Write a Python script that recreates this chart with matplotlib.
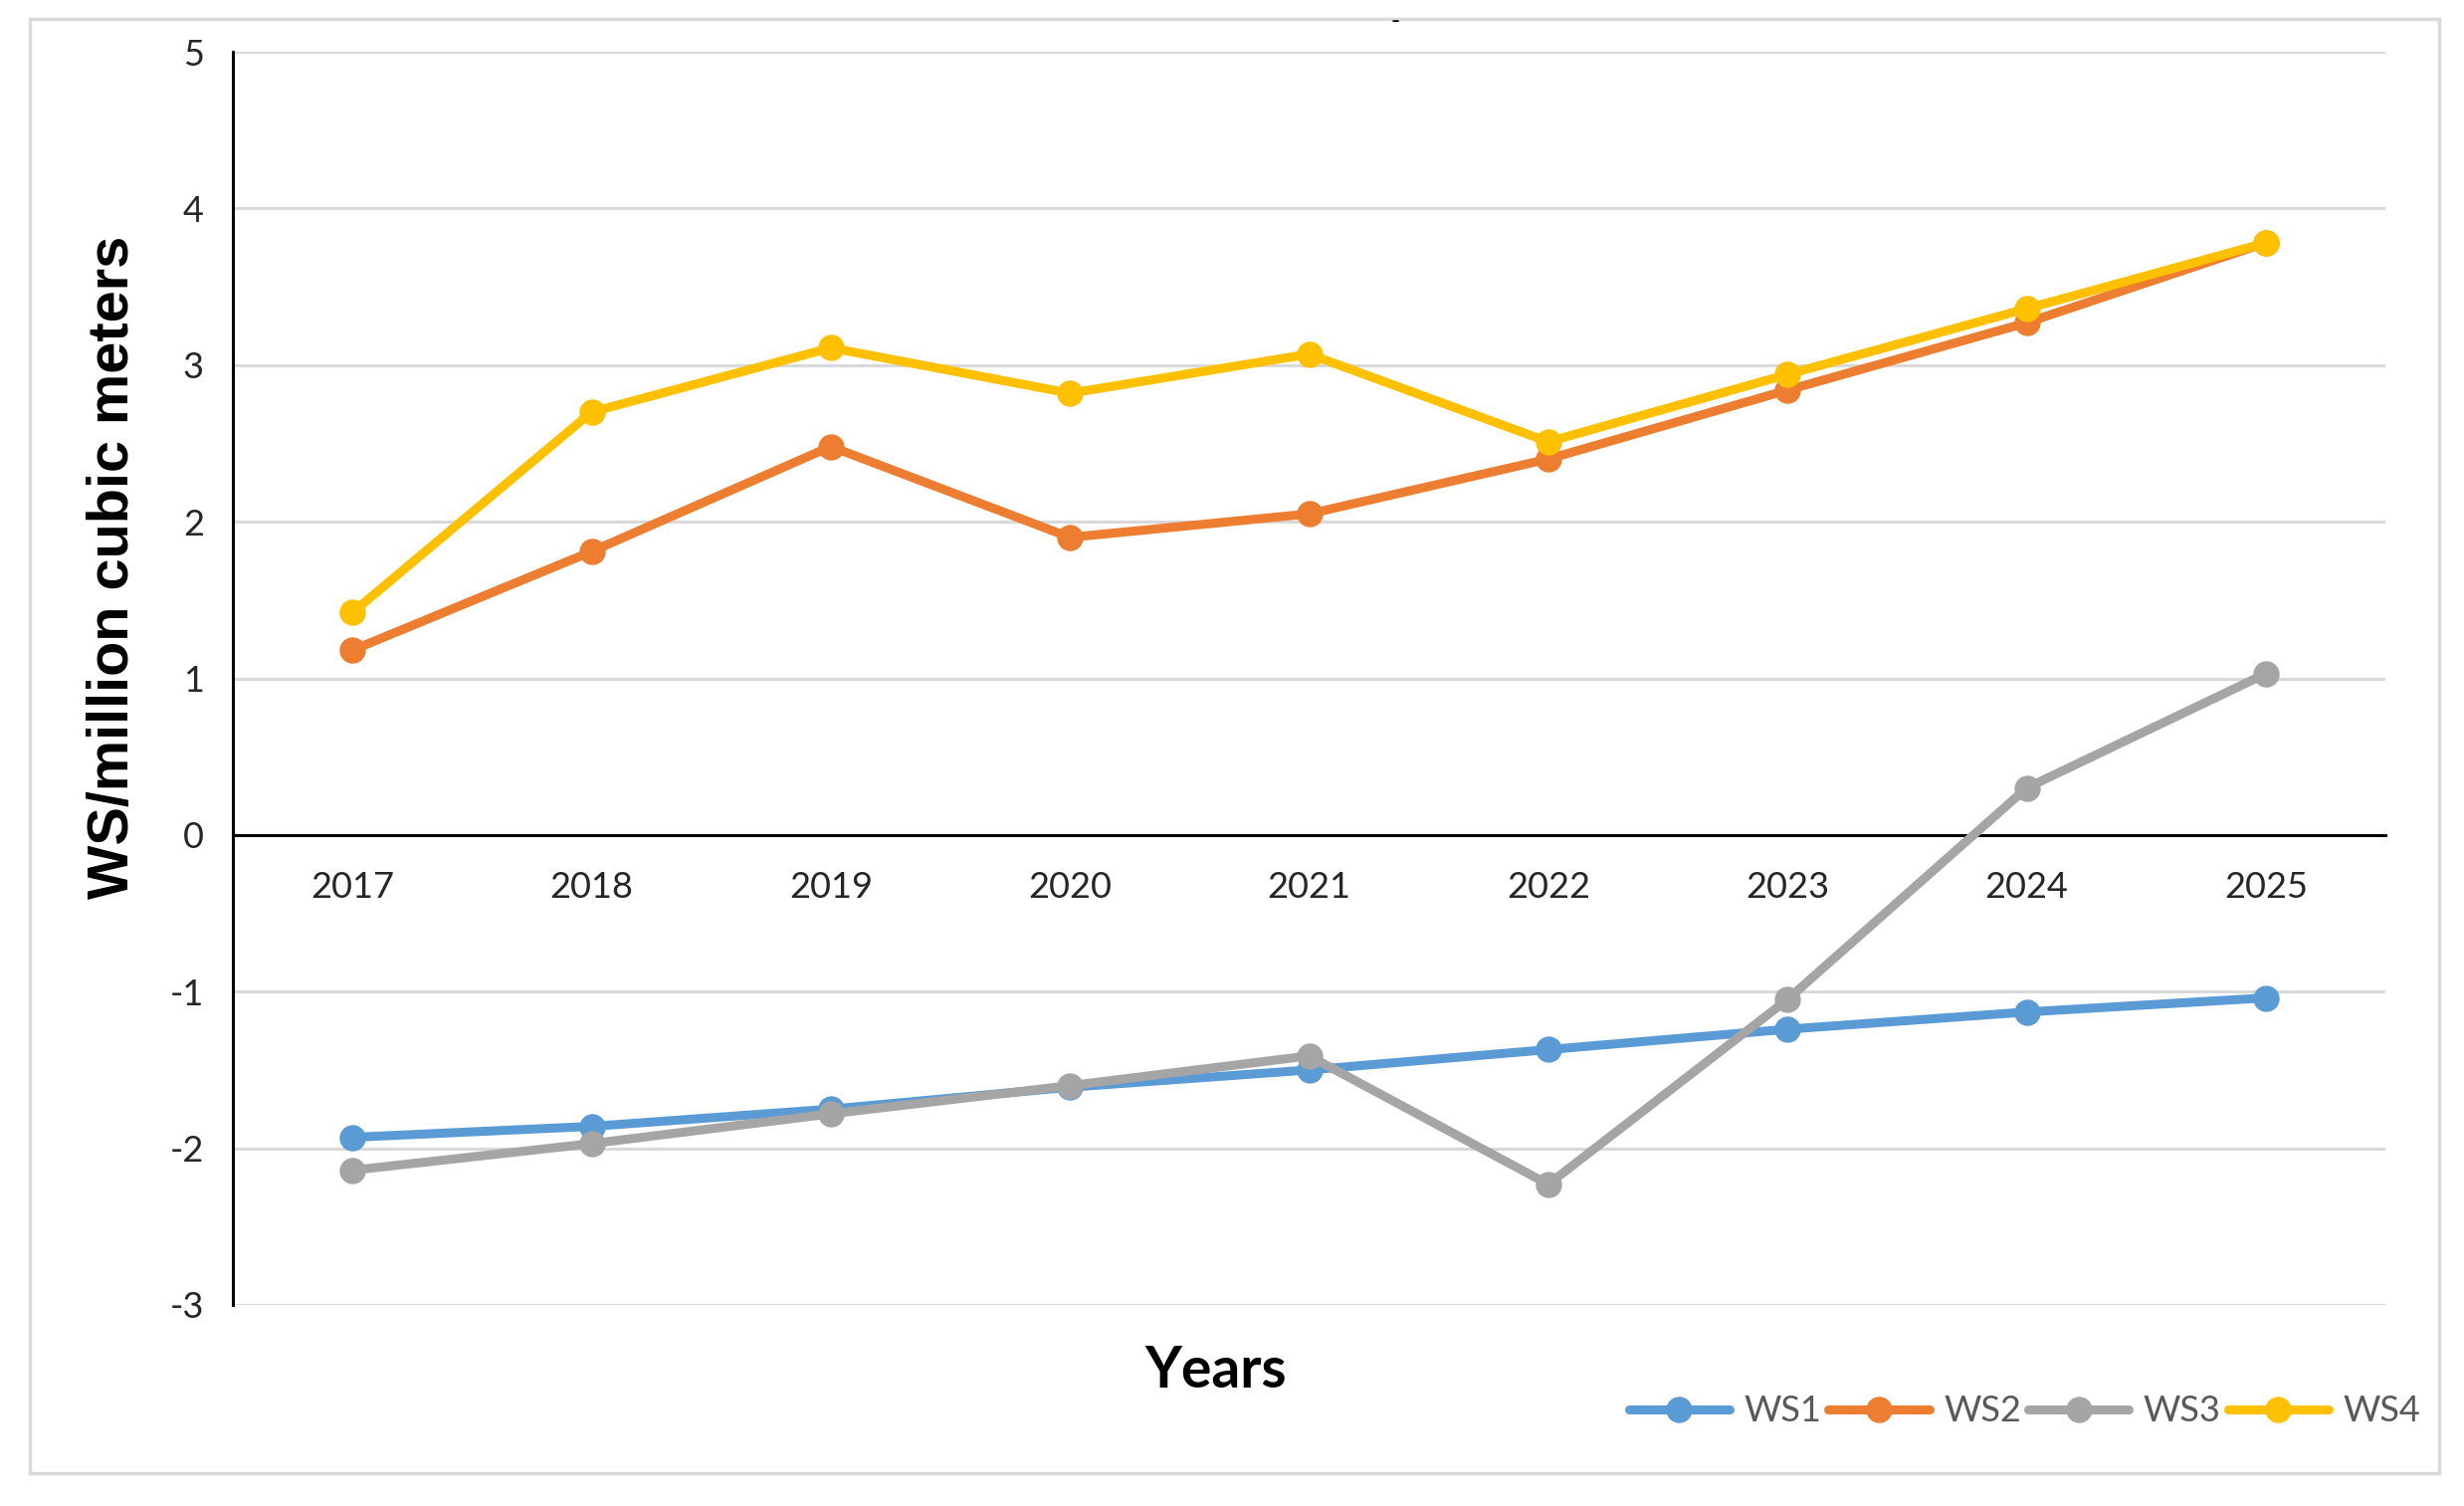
import matplotlib
matplotlib.use("Agg")
import matplotlib.pyplot as plt
from matplotlib.patches import Rectangle

years = ["2017", "2018", "2019", "2020", "2021", "2022", "2023", "2024", "2025"]
ws1 = [-1.93, -1.86, -1.75, -1.61, -1.50, -1.37, -1.24, -1.13, -1.04]
ws2 = [1.18, 1.81, 2.48, 1.90, 2.05, 2.40, 2.84, 3.27, 3.78]
ws3 = [-2.14, -1.97, -1.78, -1.60, -1.41, -2.23, -1.05, 0.30, 1.03]
ws4 = [1.42, 2.70, 3.11, 2.82, 3.07, 2.51, 2.94, 3.36, 3.78]
series_names = ["WS1", "WS2", "WS3", "WS4"]
colors = ["#5B9BD5", "#ED7D31", "#A5A5A5", "#FFC000"]
yticks = [-3, -2, -1, 0, 1, 2, 3, 4, 5]

W, H = 2476, 1513
fig = plt.figure(figsize=(W / 100, H / 100), dpi=100)
fig.patch.set_facecolor("white")

# outer light frame
fig.patches.append(Rectangle((30 / W, 1 - 1480 / H), (2451 - 30) / W, (1480 - 19) / H,
                             transform=fig.transFigure, fill=False,
                             edgecolor="#D9D9D9", linewidth=2.5, zorder=0))

ax = fig.add_axes([234 / W, 1 - 1311 / H, (2397 - 234) / W, (1311 - 52) / H])
x = list(range(len(years)))

for vals, name, c in zip([ws1, ws2, ws3, ws4], series_names, colors):
    ax.plot(x, vals, color=c, linewidth=6.5, marker="o", markersize=18,
            markeredgecolor=c, label=name, solid_capstyle="round", zorder=3)

ax.set_xlim(-0.5, len(years) - 0.5)
ax.set_ylim(-3, 5)
ax.set_yticks(yticks)
ax.set_yticklabels([str(v) for v in yticks])
ax.set_xticks(x)
ax.set_xticklabels(years)

for s in ["top", "right"]:
    ax.spines[s].set_visible(False)
ax.spines["bottom"].set_position(("data", 0))
ax.spines["bottom"].set_linewidth(2.2)
ax.spines["bottom"].set_color("black")
ax.spines["left"].set_linewidth(2.2)
ax.spines["left"].set_color("black")

for v in yticks:
    if v != 0:
        ax.axhline(v, color="#D9D9D9", linewidth=2.2, zorder=1)

ax.tick_params(axis="both", length=0)
ax.tick_params(axis="y", pad=21, labelsize=26, labelcolor="#262626")
ax.tick_params(axis="x", pad=26, labelsize=26, labelcolor="#262626")
for lab in ax.get_xticklabels() + ax.get_yticklabels():
    lab.set_fontfamily("Lato")

fig.text(114 / W, 1 - 570 / H, "WS/million cubic meters", rotation=90,
         ha="center", va="center", fontsize=41.5, fontweight="bold",
         family="Liberation Sans", color="black")
fig.text(1222 / W, 1 - 1377 / H, "Years", ha="center", va="center",
         fontsize=41, fontweight="bold", family="Lato", color="black")
fig.text(1402 / W, 1 - 22 / H, "-", ha="center", va="center",
         fontsize=18, family="Lato", color="black")

leg = ax.legend(loc="center right", bbox_to_anchor=(2432 / W, 1 - 1418 / H),
                bbox_transform=fig.transFigure, ncol=4, frameon=False,
                handlelength=2.8, handletextpad=0.4, columnspacing=0.2,
                borderaxespad=0, borderpad=0,
                prop={"family": "Lato", "size": 26})
for t in leg.get_texts():
    t.set_color("#595959")

fig.savefig("out.png", dpi=100, facecolor="white")
